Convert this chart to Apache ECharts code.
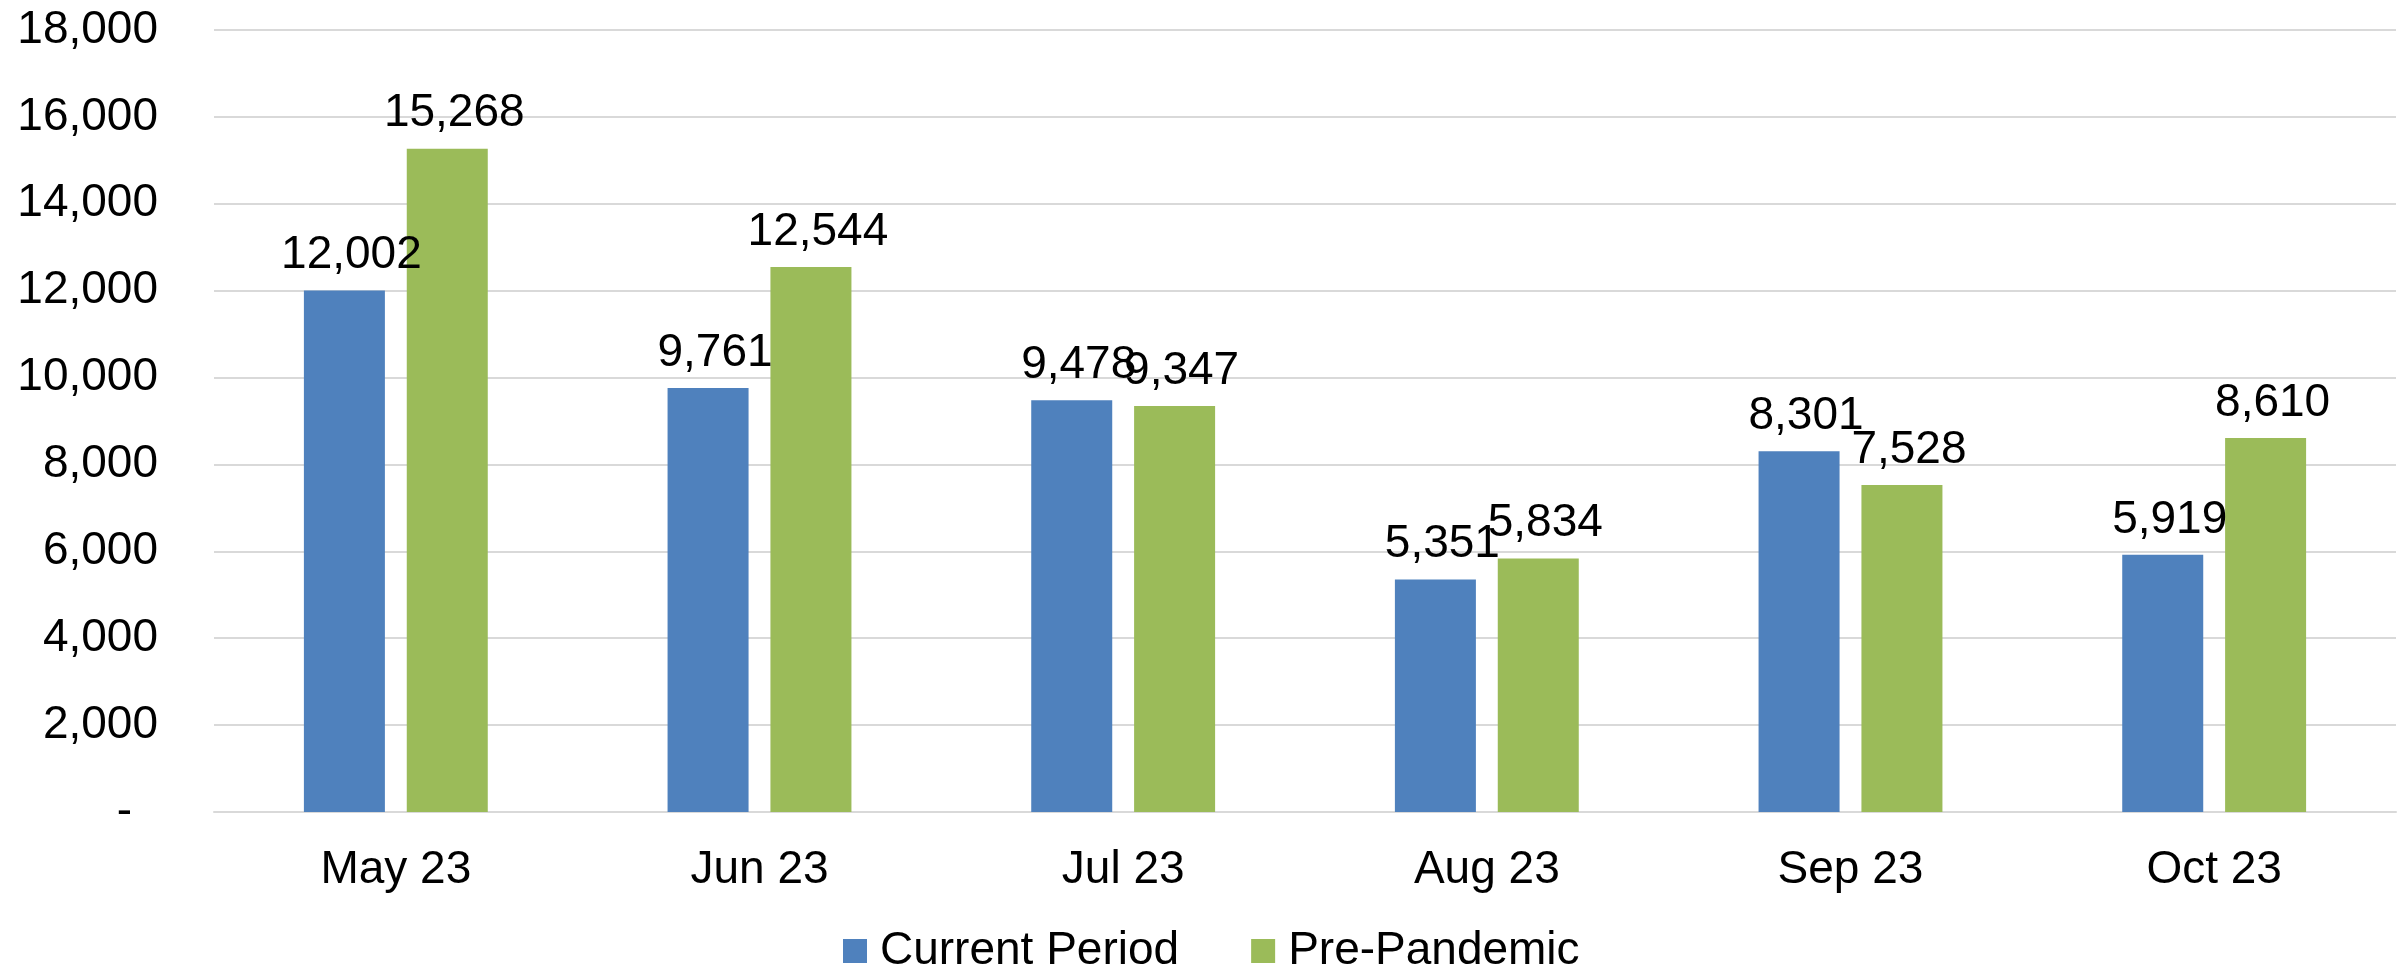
<!DOCTYPE html>
<html>
<head>
<meta charset="utf-8">
<script src="https://cdn.jsdelivr.net/npm/echarts@6/dist/echarts.min.js"></script>
<style>
html,body{margin:0;padding:0;background:#fff;}
#chart{width:2407px;height:967px;}
</style>
</head>
<body>
<div id="chart"></div>
<script>
const categories = ['May 23', 'Jun 23', 'Jul 23', 'Aug 23', 'Sep 23', 'Oct 23'];
const currentPeriod = [12002, 9761, 9478, 5351, 8301, 5919];
const prePandemic = [15268, 12544, 9347, 5834, 7528, 8610];
const seriesNames = ['Current Period', 'Pre-Pandemic'];
const yTicks = { min: 0, max: 18000, interval: 2000 };

const FONT = '"Liberation Sans", Arial, sans-serif';
const FS = 46;
const fmt = v => v.toLocaleString('en-US');

const chart = echarts.init(document.getElementById('chart'));
const labelCfg = {
  show: true,
  position: 'top',
  distance: 12,
  offset: [7, 0],
  color: '#000',
  fontFamily: FONT,
  fontSize: FS,
  formatter: p => fmt(p.value)
};
chart.setOption({
  animation: false,
  backgroundColor: '#fff',
  textStyle: { fontFamily: FONT },
  grid: { left: 214, right: 11, top: 30, bottom: 155, containLabel: false },
  legend: {
    left: 838,
    top: 923,
    itemWidth: 24,
    itemHeight: 24,
    itemGap: 72,
    icon: 'rect',
    textStyle: { fontFamily: FONT, fontSize: FS, color: '#000', padding: [0, 0, 0, 8] },
    data: seriesNames
  },
  xAxis: {
    type: 'category',
    data: categories,
    axisLine: { show: true, lineStyle: { color: '#d9d9d9', width: 2 } },
    axisTick: { show: false },
    axisLabel: { color: '#000', fontFamily: FONT, fontSize: FS, margin: 35 }
  },
  yAxis: {
    type: 'value',
    min: yTicks.min,
    max: yTicks.max,
    interval: yTicks.interval,
    axisLine: { show: false },
    axisTick: { show: false },
    splitLine: { lineStyle: { color: '#d9d9d9', width: 2 } },
    axisLabel: {
      color: '#000',
      fontFamily: FONT,
      fontSize: FS,
      margin: 56,
      formatter: v => v === 0 ? '{d|-}' : fmt(v),
      rich: { d: { fontFamily: FONT, fontSize: FS, color: '#000', padding: [0, 26, 0, 0] } }
    }
  },
  series: [
    {
      name: seriesNames[0],
      type: 'bar',
      data: currentPeriod,
      barWidth: 81,
      barGap: '27%',
      itemStyle: { color: '#4F81BD' },
      label: labelCfg
    },
    {
      name: seriesNames[1],
      type: 'bar',
      data: prePandemic,
      barWidth: 81,
      barGap: '27%',
      itemStyle: { color: '#9BBB59' },
      label: labelCfg
    }
  ]
});
</script>
</body>
</html>
